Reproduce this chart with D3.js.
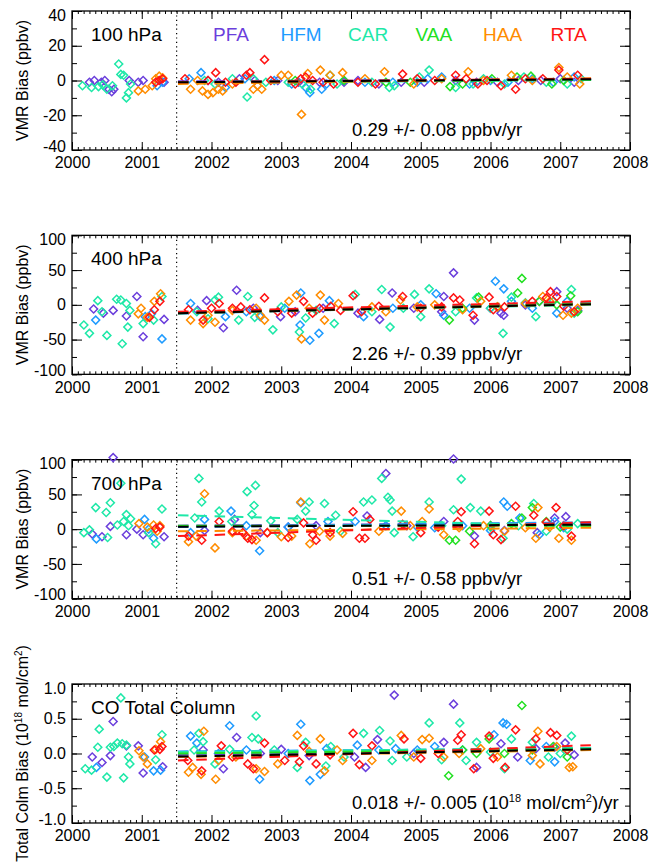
<!DOCTYPE html>
<html>
<head>
<meta charset="utf-8">
<script src="https://cdn.jsdelivr.net/npm/d3@7"></script>
<style>
  body { margin: 0; background: #fff; }
  svg { display: block; font-family: "Liberation Sans", Arial, Helvetica, sans-serif; }
</style>
</head>
<body>
<svg id="chart" width="650" height="867"></svg>
<script>
// categories / ticks
const yearTicks = [2000, 2001, 2002, 2003, 2004, 2005, 2006, 2007, 2008];
const stations = ["PFA", "HFM", "CAR", "VAA", "HAA", "RTA"];
const stationColors = ["#6b3fdc", "#1e9bff", "#1ee8a8", "#22e022", "#ff8c00", "#ff1414"];

// ---- 100 hPa : [decimal year, bias ppbv]
const pfa100 = [[2000.25,-1],[2000.32,0],[2000.42,-1],[2000.47,0],[2000.53,-5],[2000.57,-6.5],[2000.6,-5],[2000.82,0],[2000.95,-1],[2001.02,0],[2001.32,-1],[2001.95,0],[2002.1,-1],[2002.4,1],[2002.62,0],[2002.95,0],[2003.25,-1],[2003.55,-1],[2003.9,-1],[2004.1,0],[2004.4,-2],[2004.72,-1],[2005.05,-1],[2005.5,0],[2005.8,-1],[2006.1,-1],[2006.4,0],[2006.72,0],[2007.0,1],[2007.2,-1]];
const hfm100 = [[2001.22,-3],[2001.3,-1],[2001.68,1],[2001.85,4.5],[2002.2,-4],[2002.48,1],[2002.9,0],[2003.15,-2],[2003.35,-4],[2003.41,-7],[2003.58,-5],[2003.65,-2],[2003.9,0],[2004.2,-1],[2004.6,-1],[2004.95,-1],[2005.1,1],[2005.3,2],[2005.7,-2],[2006.0,0],[2006.25,-1],[2006.6,1],[2006.9,-1],[2007.2,2]];
const car100 = [[2000.15,-3],[2000.28,-4],[2000.38,-3.5],[2000.44,-2.5],[2000.5,-5],[2000.58,-3],[2000.67,9.5],[2000.7,3.5],[2000.74,3],[2000.78,-10],[2000.81,-7],[2000.84,-2],[2001.9,0],[2002.05,-2],[2002.3,1],[2002.51,-9.5],[2002.6,1],[2002.78,-1],[2003.1,-1],[2003.3,-2],[2003.42,-5],[2003.7,3],[2003.8,-2],[2004.3,-1],[2004.55,-4],[2004.62,-3],[2004.98,2],[2005.12,6],[2005.5,-4],[2005.75,-2],[2005.9,1],[2006.2,-2],[2006.48,2],[2006.8,-1],[2007.1,-2],[2007.3,1]];
const vaa100 = [[2003.2,0],[2003.9,0],[2004.5,-1],[2004.85,-1],[2005.42,-3.5],[2005.6,-2],[2006.02,1],[2006.38,2],[2006.58,2.5],[2006.88,-2],[2007.05,0]];
const haa100 = [[2000.95,-6],[2001.05,-5],[2001.15,-3],[2001.2,1],[2001.25,2.5],[2001.3,1.5],[2001.7,-5],[2001.8,0],[2001.87,-6],[2001.95,-8],[2002.02,-7],[2002.1,-5],[2002.16,-6],[2002.3,-2],[2002.6,-5],[2002.66,-3],[2002.72,-5],[2003.0,3],[2003.1,3],[2003.29,-19.5],[2003.38,4],[2003.56,6],[2003.7,3],[2003.88,4.5],[2004.2,1],[2004.48,5],[2004.9,-2],[2005.3,1],[2005.68,5],[2005.9,0],[2006.3,3],[2006.6,0],[2006.98,7.5],[2007.1,2],[2007.28,-2]];
const rta100 = [[2001.2,-1],[2001.25,0],[2001.3,1],[2001.62,1],[2001.95,0],[2002.06,4.5],[2002.2,-1],[2002.35,-1],[2002.5,3],[2002.55,4.5],[2002.76,12],[2002.85,0],[2003.2,-2],[2003.28,1],[2003.35,2],[2003.45,0],[2003.6,-1],[2003.75,-2],[2004.1,-1],[2004.35,-2],[2004.74,3.7],[2004.95,1],[2005.2,0],[2005.5,3],[2005.65,1],[2005.82,-2],[2005.95,0],[2006.15,-3],[2006.36,-5],[2006.5,1],[2006.75,1],[2006.98,6],[2007.25,3]];
const trend100 = [[-0.5,0.5],[-1,0.8],[-1.5,0.3],[-1,0.5],[-2,1.3],[-1,1]];
const overall100 = [-1.0, 0.7];

// ---- 400 hPa
const pfa400 = [[2000.31,-6],[2000.45,-12],[2000.59,-8],[2000.78,-16],[2000.93,12],[2001.02,-46],[2001.32,-21],[2001.8,-8],[2001.93,6],[2002.17,-33],[2002.36,21],[2002.6,-5],[2002.99,-17],[2003.2,-10],[2003.6,-5],[2004.1,-12],[2004.41,-21],[2004.59,17],[2004.9,-5],[2005.3,-10],[2005.33,12],[2005.47,46],[2005.77,-22],[2006.0,-5],[2006.15,-12],[2006.19,-15],[2006.5,0],[2006.7,5],[2006.95,19],[2007.1,-5],[2007.25,-8]];
const hfm400 = [[2000.34,-22],[2001.05,-17],[2001.14,-13],[2001.29,-49],[2001.7,2],[2002.2,-17],[2002.5,-10],[2002.7,-17],[2003.05,-5],[2003.27,-29],[2003.28,17],[2003.41,-51],[2003.54,-41],[2003.69,6],[2004.18,-17],[2004.6,-5],[2005.0,0],[2005.22,16],[2005.33,-15],[2005.7,-5],[2006.07,34],[2006.19,23],[2006.3,5],[2006.6,-5],[2006.95,-12],[2007.1,5]];
const car400 = [[2000.17,-29],[2000.25,-41],[2000.37,6],[2000.43,-10],[2000.5,-44],[2000.64,8],[2000.7,7],[2000.72,-56],[2000.78,2],[2000.8,-32],[2000.83,-8],[2001.02,-27],[2001.17,-22],[2001.29,12],[2001.79,-10],[2001.95,-20],[2002.05,7],[2002.1,11],[2002.39,-22],[2002.52,12],[2002.62,-18],[2002.88,-36],[2003.0,-3],[2003.26,-39],[2003.35,-19],[2003.5,-8],[2003.76,-27],[2004.06,15],[2004.3,-10],[2004.44,22],[2004.56,-32],[2004.75,-5],[2004.91,15],[2005.0,-17],[2005.12,23],[2005.5,-10],[2005.8,10],[2006.0,-5],[2006.18,-41],[2006.3,11],[2006.5,3],[2006.65,-17],[2006.9,5],[2007.16,22],[2007.2,-12]];
const vaa400 = [[2005.41,-22],[2005.6,-5],[2005.83,11],[2006.1,-3],[2006.39,17],[2006.45,38],[2006.7,5],[2006.95,0],[2007.15,13],[2007.25,-10]];
const haa400 = [[2000.95,-13],[2000.99,-5],[2001.08,-18],[2001.18,5],[2001.27,16],[2001.7,-22],[2001.88,-27],[2001.95,-15],[2002.05,-25],[2002.3,-8],[2002.64,-5],[2002.7,-15],[2002.76,-22],[2003.11,5],[2003.22,14],[2003.29,-49],[2003.4,-5],[2003.56,14],[2003.62,-22],[2003.82,2],[2004.3,-3],[2004.5,-10],[2004.71,7],[2004.95,-3],[2005.2,0],[2005.6,-7],[2005.86,5],[2006.1,-3],[2006.5,2],[2006.75,12],[2006.85,5],[2007.04,-15],[2007.16,-12],[2007.25,-5]];
const rta400 = [[2001.11,-18],[2001.18,-7],[2001.26,5],[2001.67,-7],[2001.88,-22],[2002.0,-5],[2002.11,2],[2002.3,-5],[2002.42,-3],[2002.55,-7],[2002.76,10],[2002.95,-10],[2003.15,-12],[2003.32,5],[2003.45,-12],[2003.55,-5],[2003.71,-2],[2003.85,-8],[2004.03,13],[2004.15,-10],[2004.4,-2],[2004.74,12],[2005.0,-5],[2005.3,-3],[2005.47,10],[2005.56,7],[2005.75,-15],[2005.98,11],[2006.04,-7],[2006.2,-3],[2006.6,5],[2006.8,10],[2006.86,19],[2006.95,12],[2007.05,-2],[2007.2,-10]];
const trend400 = [[-11,2],[-13,3],[-12,0],[-12,2],[-12,1],[-10,5]];
const overall400 = [-12, 1];

// ---- 700 hPa
const pfa700 = [[2000.29,-7],[2000.43,-11],[2000.55,4],[2000.59,103],[2000.78,-8],[2000.93,0],[2001.02,-8],[2001.32,-11],[2001.9,-2],[2002.33,14],[2002.7,-5],[2003.1,3],[2003.5,5],[2004.23,19],[2004.5,80],[2004.8,5],[2005.33,11],[2005.47,101],[2005.77,-10],[2006.0,5],[2006.2,-2],[2006.67,-5],[2006.92,16],[2007.08,18]];
const hfm700 = [[2000.35,-14],[2001.04,14],[2001.1,0],[2001.17,-13],[2001.7,-5],[2001.9,14],[2002.28,26],[2002.5,5],[2002.69,-31],[2003.1,3],[2003.28,38],[2003.67,11],[2004.06,11],[2004.5,5],[2004.95,3],[2005.2,2],[2005.6,5],[2006.0,-2],[2006.19,39],[2006.24,33],[2006.42,16],[2006.7,-8],[2006.92,11],[2007.05,2]];
const car700 = [[2000.17,-5],[2000.25,-1],[2000.34,31],[2000.49,24],[2000.51,-12],[2000.55,38],[2000.65,6],[2000.7,66],[2000.74,11],[2000.78,21],[2000.81,5],[2000.84,15],[2001.1,-5],[2001.2,-21],[2001.29,29],[2001.76,16],[2001.82,73],[2001.86,39],[2002.11,26],[2002.29,11],[2002.51,54],[2002.58,21],[2002.61,34],[2002.63,63],[2002.85,12],[2002.95,-5],[2003.23,14],[2003.35,26],[2003.4,39],[2003.62,37],[2003.78,20],[2003.85,-3],[2004.18,39],[2004.3,42],[2004.44,73],[2004.53,46],[2004.56,42],[2004.59,26],[2004.62,-5],[2004.89,-11],[2005.12,39],[2005.3,5],[2005.47,28],[2005.58,72],[2005.71,31],[2005.86,26],[2006.0,3],[2006.18,-13],[2006.4,5],[2006.62,37],[2006.8,-3],[2007.1,0],[2007.25,8]];
const vaa700 = [[2005.41,-16],[2005.5,-16],[2005.7,-3],[2006.0,5],[2006.3,8],[2006.45,16],[2006.6,31],[2006.8,11],[2007.0,3]];
const haa700 = [[2000.96,8],[2001.08,3],[2001.17,6],[2001.22,-3],[2001.26,5],[2001.67,-18],[2001.78,-10],[2001.9,51],[2002.05,-27],[2002.3,-5],[2002.5,-10],[2002.64,-16],[2002.8,-5],[2003.0,-11],[2003.15,-10],[2003.28,39],[2003.41,-21],[2003.55,-3],[2003.7,-10],[2003.88,-6],[2004.4,-3],[2004.72,26],[2004.85,5],[2005.02,11],[2005.12,29],[2005.33,-8],[2005.55,2],[2005.9,5],[2006.2,-3],[2006.5,2],[2006.65,-13],[2006.68,31],[2006.85,3],[2006.98,-13],[2007.16,-16]];
const rta700 = [[2001.2,1],[2001.26,3],[2001.67,-10],[2001.86,-16],[2002.11,11],[2002.3,-3],[2002.45,-5],[2002.52,-13],[2002.58,-15],[2002.8,-5],[2003.1,-12],[2003.32,9],[2003.45,-8],[2003.5,-16],[2003.7,-5],[2004.03,25],[2004.12,-13],[2004.2,-13],[2004.27,14],[2004.74,7],[2005.0,-5],[2005.25,3],[2005.53,11],[2005.58,25],[2005.77,-21],[2005.98,26],[2006.04,-8],[2006.15,-15],[2006.36,33],[2006.62,20],[2006.8,10],[2006.94,31],[2007.05,5],[2007.16,-10]];
const trend700 = [[5,9],[3,10],[20,4],[5,5],[-3,2],[-10,10]];
const overall700 = [3.5, 6.5];

// ---- CO total column : [decimal year, bias 1e18 mol/cm2]
const pfaCol = [[2000.29,-0.05],[2000.43,-0.13],[2000.55,-0.03],[2000.59,0.46],[2000.78,0.11],[2000.95,0.11],[2001.02,-0.28],[2001.3,-0.19],[2001.88,0.05],[2002.17,-0.22],[2002.36,0.23],[2002.7,0.0],[2003.0,0.06],[2003.4,-0.03],[2004.05,-0.05],[2004.21,-0.2],[2004.38,0.2],[2004.62,0.84],[2004.9,0.0],[2005.33,0.16],[2005.47,0.71],[2005.8,-0.2],[2006.15,0.14],[2006.39,-0.05],[2006.65,0.07],[2006.92,0.09],[2007.07,0.15],[2007.2,-0.02]];
const hfmCol = [[2000.35,-0.2],[2001.04,-0.05],[2001.17,-0.25],[2001.27,-0.24],[2001.7,0.25],[2001.79,0.15],[2002.1,0.0],[2002.26,0.4],[2002.5,0.05],[2002.69,-0.37],[2003.1,0.0],[2003.28,0.42],[2003.41,-0.39],[2003.56,-0.3],[2003.65,0.07],[2004.09,0.12],[2004.4,0.05],[2004.64,0.07],[2004.95,0.05],[2005.2,0.1],[2005.6,0.05],[2006.05,0.27],[2006.18,0.44],[2006.23,0.42],[2006.57,-0.1],[2006.8,0.1],[2006.92,-0.12],[2007.1,0.05]];
const carCol = [[2000.19,-0.22],[2000.28,-0.24],[2000.37,0.09],[2000.39,0.35],[2000.5,-0.34],[2000.55,0.09],[2000.6,0.1],[2000.65,0.15],[2000.7,0.8],[2000.72,0.14],[2000.74,-0.35],[2000.78,0.12],[2000.81,-0.05],[2000.83,-0.15],[2001.2,-0.09],[2001.29,0.27],[2001.75,0.05],[2001.82,0.29],[2001.88,0.17],[2002.05,-0.15],[2002.26,0.06],[2002.58,0.23],[2002.64,0.54],[2002.67,0.21],[2002.9,0.05],[2003.23,-0.2],[2003.35,0.16],[2003.64,-0.18],[2003.71,0.1],[2003.9,-0.05],[2004.18,0.29],[2004.41,0.33],[2004.56,0.18],[2004.59,-0.1],[2004.8,-0.05],[2005.12,0.44],[2005.3,-0.09],[2005.56,0.44],[2005.65,-0.1],[2005.8,0.16],[2006.0,0.02],[2006.2,-0.22],[2006.3,0.21],[2006.6,0.16],[2006.83,-0.05],[2007.0,0.0],[2007.16,0.25]];
const vaaCol = [[2005.4,-0.32],[2005.6,0.05],[2005.8,0.0],[2005.98,0.21],[2006.2,0.0],[2006.45,0.69],[2006.6,0.05],[2006.9,0.1],[2007.1,-0.05]];
const haaCol = [[2000.96,0.04],[2001.02,-0.05],[2001.08,-0.15],[2001.2,0.06],[2001.27,0.17],[2001.67,-0.27],[2001.73,-0.2],[2001.85,-0.3],[2001.89,0.32],[2002.06,-0.37],[2002.1,-0.1],[2002.35,-0.05],[2002.64,-0.22],[2002.76,-0.26],[2002.95,-0.15],[2003.23,0.26],[2003.4,0.03],[2003.56,0.21],[2003.62,-0.25],[2003.8,0.05],[2003.88,-0.1],[2004.3,-0.1],[2004.72,0.26],[2004.9,-0.05],[2005.02,0.2],[2005.12,0.22],[2005.33,-0.05],[2005.55,0.0],[2005.86,0.07],[2006.1,-0.05],[2006.6,-0.03],[2006.68,0.32],[2006.71,-0.15],[2006.95,0.1],[2007.13,-0.2],[2007.18,-0.19]];
const rtaCol = [[2001.18,0.05],[2001.26,0.06],[2001.29,0.1],[2001.66,-0.1],[2001.86,-0.25],[2002.14,0.11],[2002.3,-0.05],[2002.52,-0.15],[2002.6,-0.22],[2002.76,0.15],[2003.05,-0.1],[2003.26,-0.12],[2003.32,0.11],[2003.5,-0.15],[2003.7,-0.02],[2004.03,0.29],[2004.12,-0.16],[2004.3,0.11],[2004.76,0.21],[2005.0,-0.07],[2005.25,0.0],[2005.53,0.19],[2005.58,0.27],[2005.76,-0.22],[2005.98,0.25],[2006.04,-0.07],[2006.21,-0.2],[2006.36,0.34],[2006.65,0.21],[2006.86,0.3],[2006.95,0.26],[2007.1,0.05]];
const trendCol = [[-0.02,0.08],[0.03,0.07],[0.02,0.08],[0.0,0.06],[-0.05,0.05],[-0.1,0.12]];
const overallCol = [-0.045, 0.06];

const trendSpan = [2001.52, 2007.45];
const breakYear = 2001.5;

const panels = [
    {label: "100 hPa", domain: [-40, 40], major: 20, minor: 10, fmt: d => String(d),
     series: [pfa100, hfm100, car100, vaa100, haa100, rta100], trends: trend100, overall: overall100,
     stat: ["0.29 +/- 0.08 ppbv/yr"]},
    {label: "400 hPa", domain: [-100, 100], major: 50, minor: 25, fmt: d => String(d),
     series: [pfa400, hfm400, car400, vaa400, haa400, rta400], trends: trend400, overall: overall400,
     stat: ["2.26 +/- 0.39 ppbv/yr"]},
    {label: "700 hPa", domain: [-100, 100], major: 50, minor: 25, fmt: d => String(d),
     series: [pfa700, hfm700, car700, vaa700, haa700, rta700], trends: trend700, overall: overall700,
     stat: ["0.51 +/- 0.58 ppbv/yr"]},
    {label: "CO Total Column", domain: [-1, 1], major: 0.5, minor: 0.25, fmt: d => d.toFixed(1),
     series: [pfaCol, hfmCol, carCol, vaaCol, haaCol, rtaCol], trends: trendCol, overall: overallCol,
     stat: null}
];

const svg = d3.select("#chart");
const margin = {left: 72, right: 20, top: 11};
const plotW = 650 - margin.left - margin.right;
const plotH = 139;
const step = 224.33;

const x = d3.scaleLinear().domain([2000, 2008]).range([margin.left, margin.left + plotW]);
const monthTicks = d3.range(0, 97).map(m => 2000 + m / 12);

panels.forEach((p, i) => {
    const top = margin.top + step * i;
    const bottom = top + plotH;
    const y = d3.scaleLinear().domain(p.domain).range([bottom, top]);
    const g = svg.append("g").attr("class", "panel");

    const yMajor = d3.range(p.domain[0], p.domain[1] + p.major / 2, p.major);
    const yMinor = d3.range(p.domain[0], p.domain[1] + p.minor / 2, p.minor);

    const noDomain = sel => sel.select(".domain").remove();

    // x axes (bottom with labels, top mirrored)
    g.append("g")
        .attr("transform", `translate(0,${bottom})`)
        .call(d3.axisBottom(x).tickValues(monthTicks).tickSize(-3).tickFormat(""))
        .call(noDomain);
    g.append("g")
        .attr("class", "xlabels")
        .attr("transform", `translate(0,${bottom})`)
        .call(d3.axisBottom(x).tickValues(yearTicks).tickSize(-8).tickPadding(7).tickFormat(d => String(d)))
        .call(noDomain);
    g.append("g")
        .attr("transform", `translate(0,${top})`)
        .call(d3.axisTop(x).tickValues(monthTicks).tickSize(-3).tickFormat(""))
        .call(noDomain);
    g.append("g")
        .attr("transform", `translate(0,${top})`)
        .call(d3.axisTop(x).tickValues(yearTicks).tickSize(-8).tickFormat(""))
        .call(noDomain);

    // y axes (left with labels, right mirrored)
    g.append("g")
        .attr("transform", `translate(${margin.left},0)`)
        .call(d3.axisLeft(y).tickValues(yMinor).tickSize(-5).tickFormat(""))
        .call(noDomain);
    g.append("g")
        .attr("class", "ylabels")
        .attr("transform", `translate(${margin.left},0)`)
        .call(d3.axisLeft(y).tickValues(yMajor).tickSize(-10).tickPadding(6).tickFormat(p.fmt))
        .call(noDomain);
    g.append("g")
        .attr("transform", `translate(${margin.left + plotW},0)`)
        .call(d3.axisRight(y).tickValues(yMinor).tickSize(-5).tickFormat(""))
        .call(noDomain);
    g.append("g")
        .attr("transform", `translate(${margin.left + plotW},0)`)
        .call(d3.axisRight(y).tickValues(yMajor).tickSize(-10).tickFormat(""))
        .call(noDomain);

    g.selectAll(".tick line").attr("stroke", "#000").attr("stroke-width", 1);
    g.selectAll(".tick text").attr("fill", "#000").style("font-size", "16px");
    // end labels sit inside the frame, as in the original
    g.selectAll(".ylabels .tick text")
        .attr("y", d => Math.abs(d - p.domain[0]) < 1e-9 ? -4 : (Math.abs(d - p.domain[1]) < 1e-9 ? 4 : 0));

    g.append("rect")
        .attr("x", margin.left).attr("y", top)
        .attr("width", plotW).attr("height", plotH)
        .attr("fill", "none").attr("stroke", "#000").attr("stroke-width", 1.3);

    // dotted separator
    g.append("line")
        .attr("x1", x(breakYear)).attr("x2", x(breakYear))
        .attr("y1", top).attr("y2", bottom)
        .attr("stroke", "#000").attr("stroke-width", 1.2)
        .attr("stroke-dasharray", "1.2,3.2");

    // data points
    p.series.forEach((data, si) => {
        g.selectAll(".pt-" + si)
            .data(data)
            .join("path")
            .attr("class", "pt-" + si)
            .attr("d", d3.symbol(d3.symbolSquare, 32)())
            .attr("transform", d => `translate(${x(d[0])},${y(d[1])}) rotate(45)`)
            .attr("fill", "none")
            .attr("stroke", stationColors[si])
            .attr("stroke-width", 1.5);
    });

    // per-station trend lines
    p.trends.forEach((t, si) => {
        g.append("line")
            .attr("x1", x(trendSpan[0])).attr("x2", x(trendSpan[1]))
            .attr("y1", y(t[0])).attr("y2", y(t[1]))
            .attr("stroke", stationColors[si])
            .attr("stroke-width", 2)
            .attr("stroke-dasharray", "10.5,7.8");
    });
    g.append("line")
        .attr("x1", x(trendSpan[0])).attr("x2", x(trendSpan[1]))
        .attr("y1", y(p.overall[0])).attr("y2", y(p.overall[1]))
        .attr("stroke", "#000")
        .attr("stroke-width", 2)
        .attr("stroke-dasharray", "10.5,7.8");

    // panel label
    g.append("text")
        .attr("x", 91).attr("y", top + 30)
        .style("font-size", "19px")
        .text(p.label);

    // trend text
    const st = g.append("text")
        .attr("x", 352).attr("y", bottom - 14)
        .style("font-size", "18.5px");
    if (p.stat) {
        st.text(p.stat[0]);
    } else {
        st.append("tspan").text("0.018 +/- 0.005 (10");
        st.append("tspan").attr("dy", -7).style("font-size", "11px").text("18");
        st.append("tspan").attr("dy", 7).text(" mol/cm");
        st.append("tspan").attr("dy", -7).style("font-size", "11px").text("2");
        st.append("tspan").attr("dy", 7).text(")/yr");
    }

    // y title
    const yt = g.append("text")
        .attr("transform", `translate(28,${(top + bottom) / 2}) rotate(-90)`)
        .attr("text-anchor", "middle")
        .style("font-size", "16px");
    if (i < 3) {
        yt.text("VMR Bias (ppbv)");
    } else {
        yt.append("tspan").text("Total Colm Bias (10");
        yt.append("tspan").attr("dy", -6).style("font-size", "10px").text("18");
        yt.append("tspan").attr("dy", 6).text(" mol/cm");
        yt.append("tspan").attr("dy", -6).style("font-size", "10px").text("2");
        yt.append("tspan").attr("dy", 6).text(")");
    }
});

// station legend in first panel
svg.append("g")
    .selectAll("text")
    .data(stations)
    .join("text")
    .attr("x", (d, i) => 213 + 67.5 * i)
    .attr("y", margin.top + 30)
    .attr("fill", (d, i) => stationColors[i])
    .style("font-size", "19px")
    .text(d => d);
</script>
</body>
</html>
